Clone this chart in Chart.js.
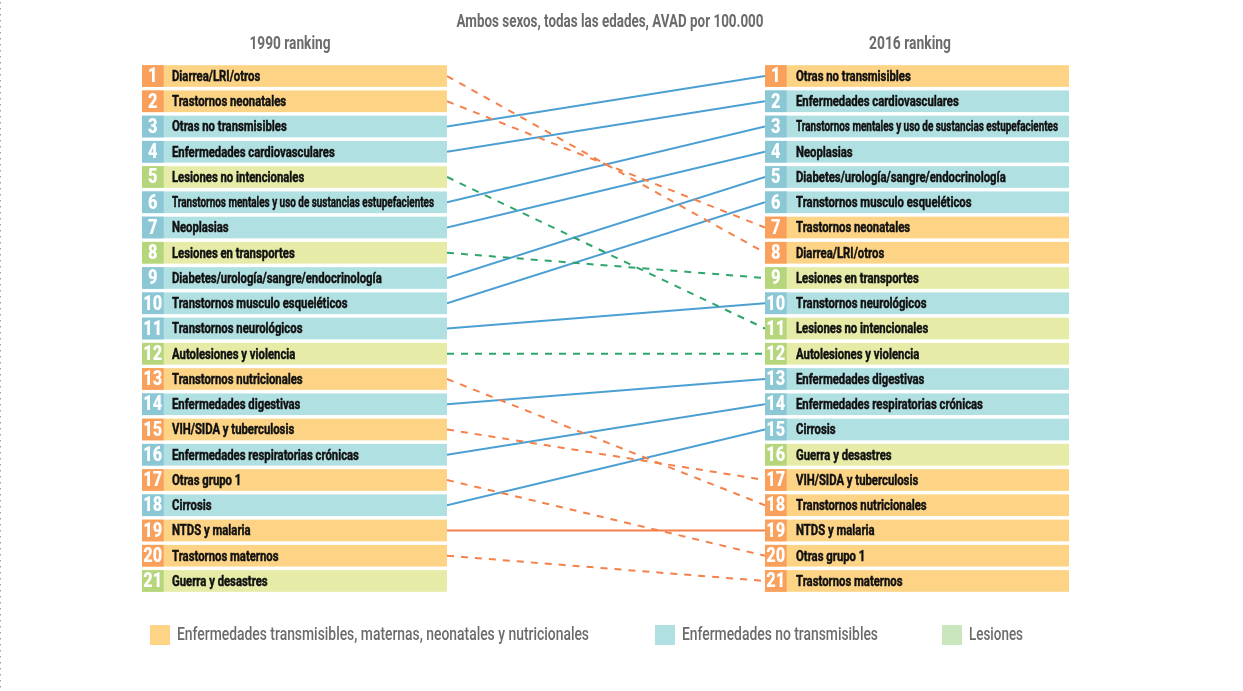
<!DOCTYPE html>
<html>
<head>
<meta charset="utf-8">
<script src="https://cdn.jsdelivr.net/npm/chart.js@4.4.1/dist/chart.umd.min.js"></script>
<style>
html,body{margin:0;padding:0;background:#fff;}
#wrap{width:1243px;height:691px;position:relative;}
</style>
</head>
<body>
<div id="wrap"><canvas id="c" width="1243" height="691"></canvas></div>
<script>
// ---- data ----
const title = "Ambos sexos, todas las edades, AVAD por 100.000";
const header1990 = "1990 ranking";
const header2016 = "2016 ranking";

const labels1990 = [
  "Diarrea/LRI/otros","Trastornos neonatales","Otras no transmisibles","Enfermedades cardiovasculares",
  "Lesiones no intencionales","Transtornos mentales y uso de sustancias estupefacientes","Neoplasias",
  "Lesiones en transportes","Diabetes/urología/sangre/endocrinología","Transtornos musculo esqueléticos",
  "Transtornos neurológicos","Autolesiones y violencia","Transtornos nutricionales","Enfermedades digestivas",
  "VIH/SIDA y tuberculosis","Enfermedades respiratorias crónicas","Otras grupo 1","Cirrosis",
  "NTDS y malaria","Trastornos maternos","Guerra y desastres"
];
const cat1990 = ["C","C","N","N","L","N","N","L","N","N","N","L","C","N","C","N","C","N","C","C","L"];

const labels2016 = [
  "Otras no transmisibles","Enfermedades cardiovasculares","Transtornos mentales y uso de sustancias estupefacientes",
  "Neoplasias","Diabetes/urología/sangre/endocrinología","Transtornos musculo esqueléticos","Trastornos neonatales",
  "Diarrea/LRI/otros","Lesiones en transportes","Transtornos neurológicos","Lesiones no intencionales",
  "Autolesiones y violencia","Enfermedades digestivas","Enfermedades respiratorias crónicas","Cirrosis",
  "Guerra y desastres","VIH/SIDA y tuberculosis","Transtornos nutricionales","NTDS y malaria","Otras grupo 1",
  "Trastornos maternos"
];
const cat2016 = ["C","N","N","N","N","N","C","C","L","N","L","L","N","N","N","L","C","C","C","C","C"];

// 2016 rank reached by each 1990 rank (null = no connector drawn)
const rank2016Of1990 = [8,7,1,2,11,3,4,9,5,6,10,12,18,13,17,14,20,15,19,21,null];
const lineDashed = [1,1,0,0,1,0,0,1,0,0,0,1,1,0,1,0,1,0,0,1,0];

const legendLabels = ["Enfermedades transmisibles, maternas, neonatales y nutricionales","Enfermedades no transmisibles","Lesiones"];
const legendCats = ["C","N","LL"];

// ---- styles ----
const boxLight = {C:"#FDD486", N:"#B1E0E3", L:"#E6ECA7", LL:"#C9E6BF"};
const boxDark  = {C:"#F9A05C", N:"#8CC7D6", L:"#B5D67C"};
const lineCol  = {C:"#F4804A", N:"#4B9FD3", L:"#2FA56C"};
const FONT = "Roboto, 'Liberation Sans', sans-serif";

const datasets = [];
rank2016Of1990.forEach((r2, i) => {
  if (r2 === null) return;
  const c = cat1990[i];
  datasets.push({
    data: [{x:0, y:i+1}, {x:1, y:r2}],
    borderColor: lineCol[c],
    borderWidth: 2,
    borderDash: lineDashed[i] ? [7,7] : [],
    pointRadius: 0,
    tension: 0,
    fill: false
  });
});

function condText(ctx, text, x, y, font, sx, align, color, maxW, stroke) {
  ctx.save();
  ctx.font = font;
  let w = ctx.measureText(text).width * sx;
  let s = sx;
  if (maxW && w > maxW) { s = sx * maxW / w; w = maxW; }
  let x0 = x;
  if (align === "center") x0 = x - w/2;
  else if (align === "right") x0 = x - w;
  ctx.translate(x0, y);
  ctx.scale(s, 1);
  ctx.fillStyle = color;
  ctx.textAlign = "left";
  ctx.textBaseline = "middle";
  ctx.fillText(text, 0, 0);
  if (stroke) {
    ctx.strokeStyle = color;
    ctx.lineWidth = stroke;
    ctx.strokeText(text, 0, 0);
  }
  ctx.restore();
}
function fitText(ctx, text, x, y, font, width, align, color, stroke) {
  ctx.save();
  ctx.font = font;
  const s = width / ctx.measureText(text).width;
  ctx.restore();
  condText(ctx, text, x, y, font, s, align, color, null, stroke);
}

const boxesPlugin = {
  id: "boxes",
  beforeDatasetsDraw(chart) {
    const ctx = chart.ctx;
    const xs = chart.scales.x, ys = chart.scales.y;
    const xl = xs.getPixelForValue(0), xr = xs.getPixelForValue(1);
    const BH = 21.7, NW = 21.7;
    // dotted left border
    ctx.save();
    ctx.strokeStyle = "#9aa0a8";
    ctx.lineWidth = 1;
    ctx.setLineDash([1.5,4.5]);
    ctx.beginPath(); ctx.moveTo(0.5, 2); ctx.lineTo(0.5, 691); ctx.stroke();
    ctx.restore();

    const drawRow = (x0, x1, cy, cat, num, label, tx) => {
      ctx.fillStyle = boxLight[cat];
      ctx.fillRect(x0, cy - BH/2, x1 - x0, BH);
      ctx.fillStyle = boxDark[cat];
      ctx.fillRect(x0, cy - BH/2, NW, BH);
      condText(ctx, String(num), x0 + NW/2, cy + 1, "900 21px " + FONT, 0.78, "center", "#fff", 19);
      condText(ctx, label, tx, cy + 1, "bold 15.5px " + FONT, 0.73, "left", "#111111", 262, 0.5);
    };
    labels1990.forEach((lab, i) => {
      drawRow(142, xl, ys.getPixelForValue(i+1), cat1990[i], i+1, lab, 172);
    });
    labels2016.forEach((lab, i) => {
      drawRow(xr, 1069, ys.getPixelForValue(i+1), cat2016[i], i+1, lab, 796);
    });

    // titles
    fitText(ctx, title, 610, 22, "bold 18px " + FONT, 307, "center", "#6b6b6b");
    fitText(ctx, header1990, 290, 44, "bold 18px " + FONT, 81, "center", "#6b6b6b");
    fitText(ctx, header2016, 910, 44, "bold 18px " + FONT, 82, "center", "#6b6b6b");

    // legend
    const lx = [150, 655, 942], tw = [412, 196, 54];
    legendLabels.forEach((t, i) => {
      ctx.fillStyle = boxLight[legendCats[i]];
      ctx.fillRect(lx[i], 625, 20, 20);
      fitText(ctx, t, lx[i] + 27, 635, "500 18px " + FONT, tw[i], "left", "#6b6b6b");
    });
  }
};

new Chart(document.getElementById("c"), {
  type: "line",
  data: { datasets },
  options: {
    responsive: false,
    animation: false,
    layout: { padding: { left: 447, right: 478, top: 63.4, bottom: 97.4 } },
    plugins: { legend: { display: false }, tooltip: { enabled: false }, title: { display: false } },
    scales: {
      x: { type: "linear", min: 0, max: 1, display: false },
      y: { type: "linear", min: 0.5, max: 21.5, reverse: true, display: false }
    }
  },
  plugins: [boxesPlugin]
});
</script>
</body>
</html>
